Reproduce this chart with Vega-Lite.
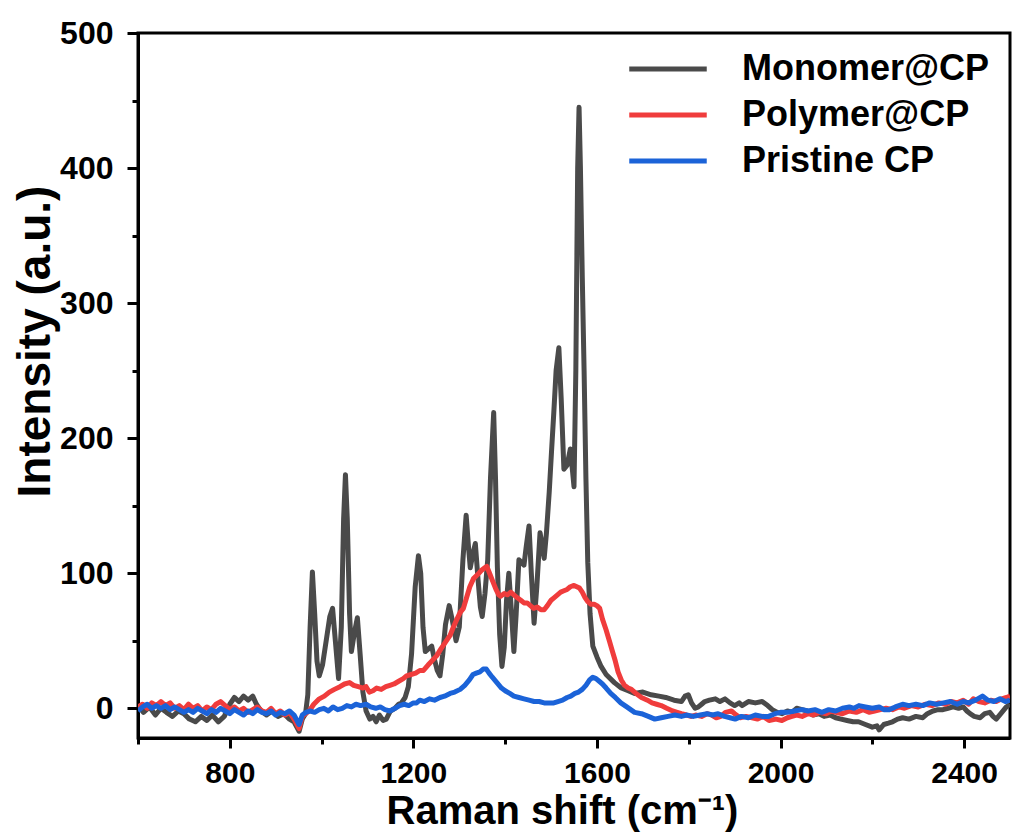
{
  "$schema": "https://vega.github.io/schema/vega-lite/v6.json",
  "width": 872,
  "height": 705,
  "autosize": {"type": "none"},
  "padding": {"left": 138, "top": 33, "right": 4, "bottom": 94},
  "background": "white",
  "config": {
    "view": {"stroke": "black", "strokeWidth": 3},
    "font": "Liberation Sans",
    "axis": {"labelFont": "Liberation Sans", "titleFont": "Liberation Sans", "labelFontWeight": "bold", "titleFontWeight": "bold", "labelColor": "black", "titleColor": "black", "domainColor": "black", "tickColor": "black", "domainWidth": 3, "tickWidth": 3, "grid": false}
  },
  "datasets": {
    "mono": [
      {"x":600,"y":2},{"x":612,"y":-3},{"x":625,"y":1},{"x":638,"y":-5},{"x":650,"y":0},{"x":662,"y":-3},{"x":675,"y":-6},{"x":688,"y":-2},{"x":700,"y":-4},{"x":712,"y":-8},{"x":725,"y":-10},{"x":738,"y":-6},{"x":750,"y":-9},{"x":762,"y":-5},{"x":775,"y":-10},{"x":788,"y":-6},{"x":800,"y":3},{"x":810,"y":8},{"x":820,"y":5},{"x":830,"y":9},{"x":840,"y":6},{"x":850,"y":9},{"x":858,"y":3},{"x":868,"y":-2},{"x":880,"y":-5},{"x":892,"y":-2},{"x":905,"y":-6},{"x":918,"y":-4},{"x":930,"y":-8},{"x":940,"y":-10},{"x":951,"y":-17},{"x":958,"y":-8},{"x":965,"y":-4},{"x":970,"y":10},{"x":975,"y":60},{"x":980,"y":101},{"x":985,"y":70},{"x":990,"y":35},{"x":995,"y":24},{"x":1002,"y":32},{"x":1010,"y":50},{"x":1018,"y":68},{"x":1024,"y":74},{"x":1030,"y":50},{"x":1037,"y":22},{"x":1043,"y":60},{"x":1048,"y":140},{"x":1052,"y":173},{"x":1056,"y":140},{"x":1061,"y":70},{"x":1065,"y":42},{"x":1071,"y":55},{"x":1078,"y":67},{"x":1084,"y":40},{"x":1090,"y":12},{"x":1097,"y":-2},{"x":1105,"y":-8},{"x":1112,"y":-6},{"x":1119,"y":-10},{"x":1126,"y":-5},{"x":1134,"y":-9},{"x":1141,"y":-8},{"x":1150,"y":-2},{"x":1160,"y":0},{"x":1168,"y":3},{"x":1174,"y":4},{"x":1182,"y":8},{"x":1189,"y":16},{"x":1196,"y":40},{"x":1204,"y":90},{"x":1211,"y":113},{"x":1216,"y":100},{"x":1221,"y":60},{"x":1226,"y":42},{"x":1233,"y":44},{"x":1240,"y":46},{"x":1246,"y":36},{"x":1252,"y":28},{"x":1258,"y":24},{"x":1264,"y":40},{"x":1270,"y":62},{"x":1278,"y":76},{"x":1285,"y":65},{"x":1293,"y":50},{"x":1300,"y":60},{"x":1308,"y":110},{"x":1315,"y":143},{"x":1320,"y":120},{"x":1324,"y":104},{"x":1330,"y":115},{"x":1335,"y":122},{"x":1341,"y":95},{"x":1346,"y":75},{"x":1350,"y":68},{"x":1356,"y":85},{"x":1362,"y":110},{"x":1368,"y":170},{"x":1375,"y":219},{"x":1379,"y":170},{"x":1383,"y":105},{"x":1388,"y":55},{"x":1393,"y":31},{"x":1398,"y":45},{"x":1403,"y":80},{"x":1408,"y":100},{"x":1413,"y":75},{"x":1419,"y":42},{"x":1424,"y":70},{"x":1430,"y":110},{"x":1436,"y":108},{"x":1441,"y":106},{"x":1446,"y":120},{"x":1452,"y":135},{"x":1457,"y":100},{"x":1463,"y":63},{"x":1469,"y":90},{"x":1476,"y":130},{"x":1481,"y":120},{"x":1485,"y":111},{"x":1490,"y":130},{"x":1496,"y":160},{"x":1501,"y":190},{"x":1506,"y":219},{"x":1511,"y":250},{"x":1517,"y":267},{"x":1522,"y":230},{"x":1528,"y":177},{"x":1535,"y":180},{"x":1542,"y":192},{"x":1547,"y":175},{"x":1550,"y":164},{"x":1554,"y":250},{"x":1558,"y":400},{"x":1561,"y":445},{"x":1564,"y":400},{"x":1568,"y":320},{"x":1572,"y":250},{"x":1576,"y":170},{"x":1580,"y":108},{"x":1585,"y":70},{"x":1591,"y":46},{"x":1600,"y":38},{"x":1609,"y":31},{"x":1620,"y":25},{"x":1638,"y":19},{"x":1653,"y":15},{"x":1668,"y":13},{"x":1682,"y":11},{"x":1700,"y":12},{"x":1718,"y":10},{"x":1735,"y":9},{"x":1750,"y":8},{"x":1768,"y":6},{"x":1784,"y":5},{"x":1792,"y":9},{"x":1799,"y":10},{"x":1806,"y":4},{"x":1814,"y":0},{"x":1821,"y":1},{"x":1828,"y":3},{"x":1835,"y":5},{"x":1845,"y":6},{"x":1858,"y":7},{"x":1868,"y":5},{"x":1879,"y":7},{"x":1890,"y":4},{"x":1900,"y":2},{"x":1910,"y":4},{"x":1916,"y":2},{"x":1930,"y":5},{"x":1945,"y":4},{"x":1960,"y":5},{"x":1972,"y":2},{"x":1982,"y":-1},{"x":1993,"y":-3},{"x":2003,"y":-4},{"x":2015,"y":-2},{"x":2025,"y":-3},{"x":2035,"y":0},{"x":2047,"y":-1},{"x":2058,"y":-2},{"x":2070,"y":-5},{"x":2084,"y":-4},{"x":2095,"y":-6},{"x":2108,"y":-5},{"x":2120,"y":-7},{"x":2132,"y":-8},{"x":2145,"y":-9},{"x":2158,"y":-10},{"x":2170,"y":-10},{"x":2185,"y":-12},{"x":2200,"y":-14},{"x":2210,"y":-13},{"x":2215,"y":-16},{"x":2225,"y":-12},{"x":2235,"y":-11},{"x":2244,"y":-10},{"x":2255,"y":-8},{"x":2266,"y":-7},{"x":2280,"y":-8},{"x":2295,"y":-6},{"x":2310,"y":-7},{"x":2320,"y":-4},{"x":2332,"y":-2},{"x":2343,"y":-1},{"x":2354,"y":-1},{"x":2365,"y":0},{"x":2376,"y":1},{"x":2388,"y":0},{"x":2398,"y":1},{"x":2406,"y":-2},{"x":2413,"y":-4},{"x":2422,"y":-6},{"x":2435,"y":-7},{"x":2445,"y":-4},{"x":2456,"y":-3},{"x":2463,"y":-6},{"x":2470,"y":-8},{"x":2480,"y":-4},{"x":2492,"y":1},{"x":2500,"y":3}
    ],
    "poly": [
      {"x":600,"y":1},{"x":610,"y":3},{"x":620,"y":0},{"x":630,"y":4},{"x":640,"y":2},{"x":650,"y":5},{"x":660,"y":2},{"x":670,"y":4},{"x":680,"y":0},{"x":690,"y":2},{"x":700,"y":-1},{"x":710,"y":3},{"x":720,"y":0},{"x":730,"y":2},{"x":740,"y":-2},{"x":750,"y":1},{"x":760,"y":-1},{"x":770,"y":3},{"x":780,"y":5},{"x":790,"y":2},{"x":800,"y":-1},{"x":810,"y":1},{"x":820,"y":-2},{"x":830,"y":0},{"x":840,"y":-3},{"x":850,"y":-1},{"x":860,"y":1},{"x":870,"y":-2},{"x":880,"y":-3},{"x":890,"y":0},{"x":900,"y":-4},{"x":910,"y":-2},{"x":920,"y":-5},{"x":930,"y":-3},{"x":940,"y":-8},{"x":951,"y":-15},{"x":958,"y":-6},{"x":965,"y":-4},{"x":973,"y":-2},{"x":983,"y":3},{"x":995,"y":7},{"x":1006,"y":9},{"x":1017,"y":12},{"x":1028,"y":14},{"x":1040,"y":16},{"x":1050,"y":18},{"x":1061,"y":19},{"x":1070,"y":17},{"x":1080,"y":16},{"x":1090,"y":15},{"x":1097,"y":16},{"x":1104,"y":12},{"x":1112,"y":13},{"x":1120,"y":15},{"x":1130,"y":14},{"x":1140,"y":16},{"x":1149,"y":17},{"x":1158,"y":18},{"x":1168,"y":20},{"x":1178,"y":22},{"x":1185,"y":24},{"x":1195,"y":25},{"x":1205,"y":26},{"x":1214,"y":28},{"x":1222,"y":28},{"x":1232,"y":32},{"x":1243,"y":36},{"x":1251,"y":39},{"x":1260,"y":44},{"x":1270,"y":49},{"x":1280,"y":54},{"x":1287,"y":60},{"x":1295,"y":66},{"x":1302,"y":71},{"x":1309,"y":74},{"x":1316,"y":82},{"x":1323,"y":90},{"x":1331,"y":96},{"x":1340,"y":99},{"x":1348,"y":102},{"x":1355,"y":104},{"x":1360,"y":105},{"x":1366,"y":100},{"x":1373,"y":94},{"x":1380,"y":88},{"x":1386,"y":84},{"x":1390,"y":83},{"x":1398,"y":85},{"x":1405,"y":84},{"x":1412,"y":86},{"x":1419,"y":84},{"x":1426,"y":82},{"x":1434,"y":80},{"x":1441,"y":78},{"x":1448,"y":78},{"x":1455,"y":76},{"x":1462,"y":74},{"x":1470,"y":75},{"x":1478,"y":73},{"x":1485,"y":73},{"x":1492,"y":76},{"x":1500,"y":80},{"x":1507,"y":82},{"x":1514,"y":84},{"x":1521,"y":86},{"x":1528,"y":87},{"x":1535,"y":88},{"x":1542,"y":90},{"x":1550,"y":91},{"x":1556,"y":90},{"x":1562,"y":89},{"x":1568,"y":86},{"x":1574,"y":82},{"x":1580,"y":79},{"x":1587,"y":77},{"x":1594,"y":77},{"x":1600,"y":76},{"x":1606,"y":74},{"x":1612,"y":66},{"x":1620,"y":58},{"x":1627,"y":50},{"x":1633,"y":43},{"x":1640,"y":35},{"x":1646,"y":27},{"x":1653,"y":21},{"x":1660,"y":17},{"x":1668,"y":15},{"x":1675,"y":14},{"x":1685,"y":11},{"x":1697,"y":8},{"x":1710,"y":6},{"x":1720,"y":4},{"x":1730,"y":3},{"x":1740,"y":2},{"x":1752,"y":0},{"x":1765,"y":-2},{"x":1775,"y":-3},{"x":1784,"y":-4},{"x":1795,"y":-5},{"x":1805,"y":-6},{"x":1815,"y":-5},{"x":1828,"y":-6},{"x":1840,"y":-4},{"x":1850,"y":-5},{"x":1860,"y":-7},{"x":1870,"y":-6},{"x":1880,"y":-3},{"x":1893,"y":-2},{"x":1900,"y":-4},{"x":1912,"y":-7},{"x":1925,"y":-6},{"x":1938,"y":-7},{"x":1950,"y":-8},{"x":1962,"y":-6},{"x":1975,"y":-9},{"x":1990,"y":-8},{"x":2003,"y":-9},{"x":2015,"y":-7},{"x":2025,"y":-6},{"x":2035,"y":-5},{"x":2047,"y":-6},{"x":2060,"y":-4},{"x":2072,"y":-5},{"x":2085,"y":-3},{"x":2100,"y":-4},{"x":2110,"y":-2},{"x":2120,"y":-3},{"x":2135,"y":-4},{"x":2150,"y":-2},{"x":2165,"y":-3},{"x":2180,"y":-1},{"x":2193,"y":-3},{"x":2205,"y":-2},{"x":2218,"y":-1},{"x":2230,"y":0},{"x":2244,"y":-1},{"x":2258,"y":1},{"x":2270,"y":0},{"x":2285,"y":2},{"x":2300,"y":1},{"x":2315,"y":3},{"x":2330,"y":2},{"x":2345,"y":4},{"x":2360,"y":3},{"x":2372,"y":5},{"x":2385,"y":4},{"x":2398,"y":6},{"x":2410,"y":3},{"x":2420,"y":7},{"x":2432,"y":5},{"x":2445,"y":4},{"x":2458,"y":6},{"x":2470,"y":5},{"x":2482,"y":7},{"x":2492,"y":8},{"x":2500,"y":9}
    ],
    "pris": [
      {"x":600,"y":-2},{"x":610,"y":1},{"x":620,"y":3},{"x":630,"y":0},{"x":640,"y":2},{"x":650,"y":0},{"x":660,"y":2},{"x":670,"y":-1},{"x":680,"y":1},{"x":690,"y":-1},{"x":700,"y":-3},{"x":710,"y":-1},{"x":720,"y":-3},{"x":730,"y":0},{"x":740,"y":-2},{"x":750,"y":-4},{"x":760,"y":-1},{"x":770,"y":-3},{"x":780,"y":0},{"x":790,"y":-2},{"x":800,"y":-4},{"x":810,"y":-1},{"x":820,"y":-3},{"x":830,"y":-5},{"x":840,"y":-2},{"x":850,"y":-4},{"x":860,"y":-1},{"x":870,"y":-3},{"x":880,"y":-4},{"x":890,"y":-2},{"x":900,"y":-5},{"x":910,"y":-3},{"x":920,"y":-4},{"x":930,"y":-2},{"x":940,"y":-5},{"x":951,"y":-12},{"x":958,"y":-5},{"x":966,"y":-3},{"x":975,"y":-2},{"x":985,"y":-3},{"x":995,"y":-1},{"x":1005,"y":0},{"x":1015,"y":-2},{"x":1025,"y":1},{"x":1035,"y":-1},{"x":1045,"y":0},{"x":1055,"y":2},{"x":1065,"y":1},{"x":1075,"y":3},{"x":1085,"y":2},{"x":1097,"y":3},{"x":1107,"y":1},{"x":1118,"y":0},{"x":1128,"y":1},{"x":1138,"y":-1},{"x":1149,"y":-2},{"x":1160,"y":0},{"x":1170,"y":2},{"x":1180,"y":3},{"x":1190,"y":2},{"x":1200,"y":4},{"x":1207,"y":4},{"x":1214,"y":6},{"x":1224,"y":5},{"x":1235,"y":7},{"x":1246,"y":6},{"x":1258,"y":8},{"x":1268,"y":9},{"x":1280,"y":11},{"x":1290,"y":12},{"x":1302,"y":14},{"x":1312,"y":17},{"x":1322,"y":21},{"x":1330,"y":25},{"x":1337,"y":26},{"x":1345,"y":27},{"x":1352,"y":29},{"x":1359,"y":29},{"x":1365,"y":26},{"x":1372,"y":23},{"x":1382,"y":19},{"x":1392,"y":15},{"x":1400,"y":13},{"x":1410,"y":11},{"x":1419,"y":9},{"x":1430,"y":8},{"x":1441,"y":7},{"x":1452,"y":6},{"x":1463,"y":5},{"x":1474,"y":5},{"x":1485,"y":4},{"x":1495,"y":4},{"x":1506,"y":4},{"x":1515,"y":5},{"x":1525,"y":6},{"x":1535,"y":8},{"x":1543,"y":9},{"x":1552,"y":11},{"x":1560,"y":12},{"x":1568,"y":14},{"x":1576,"y":17},{"x":1584,"y":21},{"x":1591,"y":23},{"x":1598,"y":22},{"x":1605,"y":20},{"x":1612,"y":18},{"x":1620,"y":15},{"x":1630,"y":11},{"x":1640,"y":8},{"x":1652,"y":4},{"x":1665,"y":1},{"x":1682,"y":-3},{"x":1697,"y":-4},{"x":1712,"y":-6},{"x":1726,"y":-8},{"x":1740,"y":-7},{"x":1755,"y":-6},{"x":1770,"y":-5},{"x":1784,"y":-6},{"x":1795,"y":-5},{"x":1810,"y":-6},{"x":1825,"y":-5},{"x":1840,"y":-4},{"x":1852,"y":-5},{"x":1864,"y":-4},{"x":1878,"y":-6},{"x":1890,"y":-7},{"x":1901,"y":-8},{"x":1915,"y":-6},{"x":1930,"y":-7},{"x":1945,"y":-5},{"x":1960,"y":-6},{"x":1974,"y":-6},{"x":1988,"y":-4},{"x":2000,"y":-3},{"x":2015,"y":-3},{"x":2030,"y":-2},{"x":2047,"y":-1},{"x":2060,"y":-2},{"x":2075,"y":-1},{"x":2090,"y":-3},{"x":2105,"y":-1},{"x":2120,"y":-2},{"x":2135,"y":0},{"x":2150,"y":1},{"x":2160,"y":0},{"x":2171,"y":2},{"x":2185,"y":1},{"x":2200,"y":0},{"x":2215,"y":1},{"x":2225,"y":-1},{"x":2237,"y":-1},{"x":2250,"y":1},{"x":2266,"y":3},{"x":2280,"y":2},{"x":2295,"y":3},{"x":2310,"y":2},{"x":2325,"y":4},{"x":2340,"y":3},{"x":2355,"y":4},{"x":2370,"y":5},{"x":2385,"y":3},{"x":2398,"y":5},{"x":2410,"y":4},{"x":2425,"y":6},{"x":2440,"y":9},{"x":2452,"y":6},{"x":2465,"y":5},{"x":2478,"y":7},{"x":2490,"y":5},{"x":2500,"y":6}
    ]
  },
  "resolve": {"axis": {"x": "independent", "y": "independent"}},
  "layer": [
    {
      "data": {"name": "mono"},
      "mark": {"type": "line", "strokeWidth": 5, "clip": true, "strokeJoin": "round"},
      "encoding": {
        "x": {"field": "x", "type": "quantitative", "scale": {"domain": [600, 2500], "nice": false, "zero": false},
          "axis": {"orient": "bottom", "values": [800, 1200, 1600, 2000, 2400], "format": "d", "labelFontSize": 30, "tickSize": 10, "labelPadding": 10, "title": "Raman shift (cm⁻¹)", "titleFontSize": 40, "titleX": 424, "titleY": 73, "titleBaseline": "middle", "labelFlush": false}},
        "y": {"field": "y", "type": "quantitative", "scale": {"domain": [-22, 500], "nice": false, "zero": false},
          "axis": {"orient": "left", "values": [0, 100, 200, 300, 400, 500], "format": "d", "labelFontSize": 32, "tickSize": 11, "labelPadding": 14, "title": "Intensity (a.u.)", "titleFontSize": 46, "titleX": -103, "titleY": 308, "titleAlign": "center", "titleBaseline": "middle", "titleAngle": -90, "labelFlush": false}},
        "color": {"datum": "Monomer@CP", "type": "nominal",
          "scale": {"domain": ["Monomer@CP", "Polymer@CP", "Pristine CP"], "range": ["#4a4a4a", "#f03c3c", "#1b63d8"]},
          "legend": {"orient": "none", "legendX": 512, "legendY": 18, "title": null, "symbolType": "M-2.5,0H2.5", "symbolSize": 961, "symbolStrokeWidth": 5, "labelFont": "Liberation Sans", "labelFontWeight": "bold", "labelFontSize": 36, "labelColor": "black", "labelOffset": 56, "labelLimit": 500, "rowPadding": 10, "padding": 0}}
      }
    },
    {
      "data": {"name": "poly"},
      "mark": {"type": "line", "strokeWidth": 5, "clip": true, "strokeJoin": "round"},
      "encoding": {
        "x": {"field": "x", "type": "quantitative", "axis": null},
        "y": {"field": "y", "type": "quantitative", "axis": null},
        "color": {"datum": "Polymer@CP", "type": "nominal"}
      }
    },
    {
      "data": {"name": "pris"},
      "mark": {"type": "line", "strokeWidth": 5, "clip": true, "strokeJoin": "round"},
      "encoding": {
        "x": {"field": "x", "type": "quantitative",
          "axis": {"orient": "bottom", "values": [600, 1000, 1400, 1800, 2200], "labels": false, "title": null, "domain": false, "tickSize": 6}},
        "y": {"field": "y", "type": "quantitative",
          "axis": {"orient": "left", "values": [50, 150, 250, 350, 450], "labels": false, "title": null, "domain": false, "tickSize": 6}},
        "color": {"datum": "Pristine CP", "type": "nominal"}
      }
    }
  ]
}
